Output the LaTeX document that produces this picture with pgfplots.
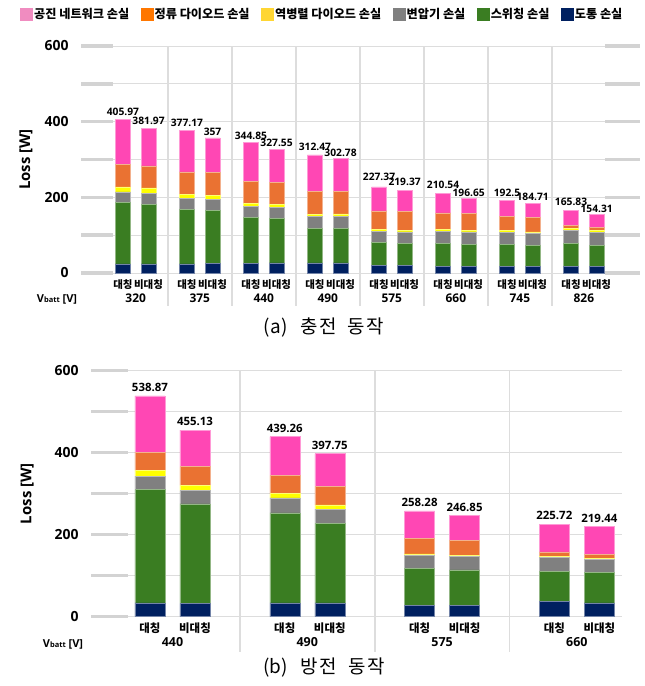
\documentclass[border=0pt]{standalone}
\usepackage{fontspec}
\usepackage{pgfplots}
\usepackage{pgfplotstable}
\pgfplotsset{compat=1.18}
\setmainfont{Noto Sans CJK KR}
\newfontfamily\os{Open Sans}
\newcommand\fs[1]{\fontsize{#1}{#1}\selectfont}

\definecolor{cnavy}{HTML}{002060}
\definecolor{cgreen}{HTML}{3A7D22}
\definecolor{cgray}{HTML}{808080}
\definecolor{cyellow}{HTML}{FFFF00}
\definecolor{corange}{HTML}{EA7232}
\definecolor{cpink}{HTML}{FF47B4}
\definecolor{lpink}{HTML}{F08CC0}
\definecolor{lorange}{HTML}{FF7700}
\definecolor{lyellow}{HTML}{FFD633}
\definecolor{gridc}{HTML}{DDDDDD}
\definecolor{stubc}{HTML}{D3D3D3}

% segments from bottom: conduction, switching, transformer, anti-parallel diode, rectifier diode, resonant network
% lift = empty space (W) between the bar top and its total label
\pgfplotstableread{
x    cond  sw     tr    ad    rd    res     tot     lift
-0.2 24    162.5  28    13    59    119.47  405.97  15
0.2  24    158    29    14    58    98.97   381.97  12.4
0.8  24    145    28    11    59    110.17  377.17  12.4
1.2  25.5  141    29    10.5  60    91      357     3.4
1.8  25.5  122.5  28    8     59    101.85  344.85  7.9
2.2  26.5  118    29    8     59    87.05   327.55  4.5
2.8  26.5  92     31    4.5   61    97.47   312.47  13.2
3.2  26.5  91.5   31    7     60.5  86.28   302.78  0.8
3.8  20    61     30    3.5   50    62.87   227.37  27.2
4.2  20    59     30    3     51    56.37   219.37  15
4.8  17.5  61.5   32    5     43    51.54   210.54  18.5
5.2  17.5  59     32.5  3     45.5  39.15   196.65  6.1
5.8  17.5  59     31.5  4     38.5  42      192.5   10.6
6.2  17.5  56.5   31.5  3.5   39    36.71   184.71  4.5
6.8  18.5  60.5   33.5  4.5   9.5   39.33   165.83  19.3
7.2  17.5  55.5   35    4.5   9     32.81   154.31  6.1
}\charging

\pgfplotstableread{
x      cond  sw     tr    ad    rd    res     tot     lift
-0.167 34    276    33    14.5  44    137.37  538.87  14.6
0.167  32.5  243    32    13    45.5  89.13   455.13  14.6
0.833  34    219.5  36.5  10.5  44    94.76   439.26  14.6
1.167  34    193.5  35    10.5  45    79.75   397.75  14.6
1.833  28.5  88.5   32    4     37.5  67.78   258.28  14.6
2.167  27    87.5   32    4     36.5  59.85   246.85  14.6
2.833  36.5  74     33.5  2.5   11.5  67.72   225.72  14.6
3.167  34    73.5   32.5  2     10.5  66.94   219.44  14.6
}\discharging

\tikzset{
  stub/.style={stubc, line width=3.5bp},
  sep/.style={gridc, line width=1.8bp},
}
\pgfplotsset{
  lossaxis/.style={
    scale only axis, ybar stacked, clip=false,
    ymin=0, ymax=600,
    ytick={0,100,...,600}, yticklabels={0,,200,,400,,600},
    ymajorgrids, grid style={gridc, line width=0.9bp},
    axis line style={draw=none},
    major tick length=0pt,
    tick style={draw=none},
    yticklabel style={font=\os\bfseries\fs{14}},
    xticklabel style={font=\bfseries\fs{10.5}, yshift=-3bp},
    ylabel={Loss [W]},
    ylabel style={font=\os\bfseries\fs{15}, anchor=center},
  },
  seg/.style={fill=#1, draw=#1!55!white, line width=0.5bp},
  legsq/.style={legend image code/.code={\fill[#1] (0bp,-6bp) rectangle (12bp,6bp);}},
  totals/.style={draw=none, fill=none,
    nodes near coords={\pgfmathprintnumber[fixed, precision=2, assume math mode=true]{\pgfplotspointmeta}},
    point meta=explicit, nodes near coords align=vertical},
}

\begin{document}
\begin{tikzpicture}
\useasboundingbox (0,0) rectangle (645bp,-686bp);

% (a) charging
\begin{axis}[lossaxis, at={(113bp,-273bp)}, anchor=south west,
  width=492bp, height=227bp, xmin=-0.355, xmax=7.33, bar width=15bp,
  xtick={-0.2,0.2,0.8,1.2,1.8,2.2,2.8,3.2,3.8,4.2,4.8,5.2,5.8,6.2,6.8,7.2},
  xticklabels={대칭,비대칭,대칭,비대칭,대칭,비대칭,대칭,비대칭,대칭,비대칭,대칭,비대칭,대칭,비대칭,대칭,비대칭},
  extra x ticks={0,1,2,3,4,5,6,7},
  extra x tick labels={320,375,440,490,575,660,745,826},
  extra x tick style={xticklabel style={font=\os\bfseries\fs{12}, yshift=-14bp}},
  yticklabel style={xshift=-41bp},
  ylabel style={at={(axis description cs:-0.177,0.5)}},
  legend style={at={(0.425,1.141)}, anchor=center, draw=none, fill=none,
    legend columns=6, font=\bfseries\fs{12.2}, inner sep=0pt,
    nodes={inner sep=1.5bp},
    /tikz/every even column/.append style={column sep=10bp}},
]
\addlegendimage{legsq=lpink}\addlegendentry{공진 네트워크 손실}
\addlegendimage{legsq=lorange}\addlegendentry{정류 다이오드 손실}
\addlegendimage{legsq=lyellow}\addlegendentry{역병렬 다이오드 손실}
\addlegendimage{legsq=cgray}\addlegendentry{변압기 손실}
\addlegendimage{legsq=cgreen}\addlegendentry{스위칭 손실}
\addlegendimage{legsq=cnavy}\addlegendentry{도통 손실}
\addplot[seg=cnavy] table[x=x, y=cond] {\charging};
\addplot[seg=cgreen] table[x=x, y=sw] {\charging};
\addplot[seg=cgray] table[x=x, y=tr] {\charging};
\addplot[seg=cyellow] table[x=x, y=ad] {\charging};
\addplot[seg=corange] table[x=x, y=rd] {\charging};
\addplot[seg=cpink] table[x=x, y=res] {\charging};
\addplot[totals, nodes near coords style={font=\os\bfseries\fs{10.3}, inner sep=1bp}]
  table[x=x, y=lift, meta=tot] {\charging};
\pgfplotsinvokeforeach{0.5,1.5,...,6.5}{\draw[sep] (axis cs:#1,600) -- (axis cs:#1,-87);}
\pgfplotsinvokeforeach{0,100,...,600}{
  \draw[stub] ([xshift=-32bp]axis cs:-0.355,#1) -- (axis cs:-0.355,#1);
  \draw[stub] (axis cs:7.33,#1) -- ([xshift=35bp]axis cs:7.33,#1);}
\end{axis}
\node[font=\os\bfseries\fs{11}] at (57bp,-299bp) {V{\fs{7.5}batt} [V]};
\node[font=\fs{19}] at (324bp,-328bp) {(a)\hspace{13bp}충\hspace{1.5bp}전\hspace{11bp}동\hspace{1.5bp}작};

% (b) discharging
\begin{axis}[lossaxis, at={(128bp,-616.7bp)}, anchor=south west,
  width=494bp, height=246bp, xmin=-0.33, xmax=3.335, bar width=30bp,
  xtick={-0.167,0.167,0.833,1.167,1.833,2.167,2.833,3.167},
  xticklabels={대칭,비대칭,대칭,비대칭,대칭,비대칭,대칭,비대칭},
  xticklabel style={font=\bfseries\fs{11.5}},
  extra x ticks={0,1,2,3},
  extra x tick labels={440,490,575,660},
  extra x tick style={xticklabel style={font=\os\bfseries\fs{12.5}, yshift=-14bp}},
  yticklabel style={xshift=-46bp},
  ylabel style={at={(axis description cs:-0.204,0.5)}},
]
\addplot[seg=cnavy] table[x=x, y=cond] {\discharging};
\addplot[seg=cgreen] table[x=x, y=sw] {\discharging};
\addplot[seg=cgray] table[x=x, y=tr] {\discharging};
\addplot[seg=cyellow] table[x=x, y=ad] {\discharging};
\addplot[seg=corange] table[x=x, y=rd] {\discharging};
\addplot[seg=cpink] table[x=x, y=res] {\discharging};
\addplot[totals, nodes near coords style={font=\os\bfseries\fs{11.5}, inner sep=1bp}]
  table[x=x, y=lift, meta=tot] {\discharging};
\pgfplotsinvokeforeach{0.5,1.5,2.5}{\draw[sep] (axis cs:#1,600) -- (axis cs:#1,-86);}
\pgfplotsinvokeforeach{0,100,...,600}{
  \draw[stub] ([xshift=-37bp]axis cs:-0.33,#1) -- (axis cs:-0.33,#1);}
\end{axis}
\node[font=\os\bfseries\fs{11}] at (63bp,-644bp) {V{\fs{7.5}batt} [V]};
\node[font=\fs{19}] at (324bp,-668bp) {(b)\hspace{13bp}방\hspace{1.5bp}전\hspace{11bp}동\hspace{1.5bp}작};
\end{tikzpicture}
\end{document}
